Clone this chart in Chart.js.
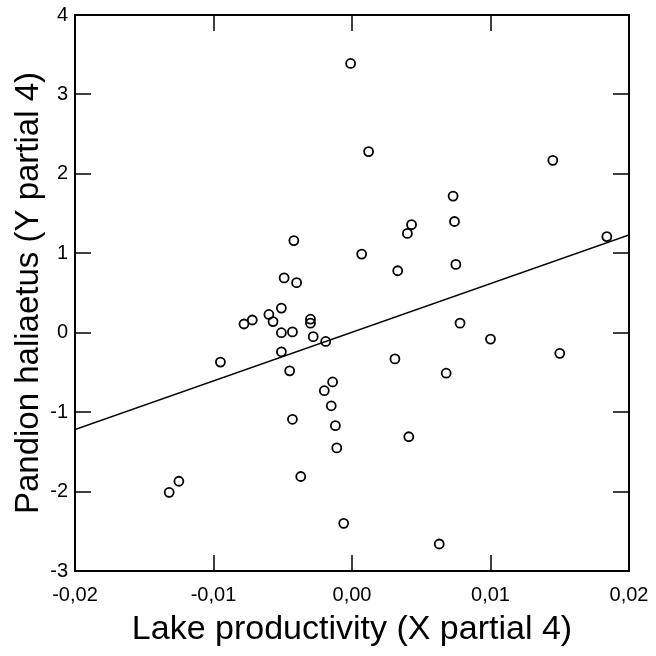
<!DOCTYPE html>
<html lang="en">

<head>
    <meta charset="UTF-8">
    <title>Pandion haliaetus vs Lake productivity</title>
    <style>
        body {
            background-color: white;
            margin: 0;
            padding: 0;
        }

        #chartBox {
            width: 656px;
            height: 656px;
        }
    </style>
</head>

<body>
    <div id="chartBox">
        <canvas id="partialChart" width="656" height="656"></canvas>
    </div>

    <script src="https://cdn.jsdelivr.net/npm/chart.js"></script>

    <script>
        // Partial regression points
        const xValues = [
            -0.0001, 0.0012, 0.0145, 0.0073, 0.0074, 0.0075, 0.0184, 0.0078, 0.0100, 0.0150,
            0.0068, 0.0043, 0.0040, 0.0007, 0.0033, -0.0042, -0.0049, -0.0040, -0.0051, -0.0060,
            -0.0072, -0.0078, -0.0057, -0.0030, -0.0030, -0.0051, -0.0043, -0.0028, -0.0019, -0.0051,
            -0.0095, -0.0045, 0.0031, -0.0014, -0.0020, -0.0015, -0.0043, -0.0012, -0.0011, 0.0041,
            -0.0037, -0.0006, 0.0063, -0.0132, -0.0125
        ];
        const yValues = [
            3.39, 2.28, 2.17, 1.72, 1.40, 0.86, 1.21, 0.12, -0.08, -0.26,
            -0.51, 1.36, 1.25, 0.99, 0.78, 1.16, 0.69, 0.63, 0.31, 0.23,
            0.16, 0.11, 0.14, 0.17, 0.12, 0.00, 0.01, -0.05, -0.11, -0.24,
            -0.37, -0.48, -0.33, -0.62, -0.73, -0.92, -1.09, -1.17, -1.45, -1.31,
            -1.81, -2.40, -2.66, -2.01, -1.87
        ];

        // Fitted line end points
        const lineX = [-0.02, 0.02];
        const lineY = [-1.22, 1.23];

        // Tick labels
        const xTicks = [-0.02, -0.01, 0, 0.01, 0.02];
        const yTicks = [-3, -2, -1, 0, 1, 2, 3, 4];

        const fontFamily = "Arial, 'Liberation Sans', sans-serif";

        const scatterPoints = xValues.map((x, i) => ({ x: x, y: yValues[i] }));
        const linePoints = lineX.map((x, i) => ({ x: x, y: lineY[i] }));

        // Box around the plot area with inward tick marks on all four sides
        const frameTicks = {
            id: 'frameTicks',
            afterDraw(chart) {
                const { ctx, chartArea: a, scales } = chart;
                const len = 16;
                ctx.save();
                ctx.strokeStyle = '#000';
                ctx.lineWidth = 1.5;
                ctx.beginPath();
                xTicks.forEach(v => {
                    const px = Math.round(scales.x.getPixelForValue(v));
                    ctx.moveTo(px, a.bottom);
                    ctx.lineTo(px, a.bottom - len);
                    ctx.moveTo(px, a.top);
                    ctx.lineTo(px, a.top + len);
                });
                yTicks.forEach(v => {
                    const py = Math.round(scales.y.getPixelForValue(v));
                    ctx.moveTo(a.left, py);
                    ctx.lineTo(a.left + len, py);
                    ctx.moveTo(a.right, py);
                    ctx.lineTo(a.right - len, py);
                });
                ctx.stroke();
                ctx.lineWidth = 2;
                ctx.strokeRect(a.left, a.top, a.right - a.left, a.bottom - a.top);
                ctx.restore();
            }
        };

        const chart = new Chart(document.getElementById('partialChart'), {
            type: 'scatter',
            data: {
                datasets: [{
                    label: 'Points',
                    data: scatterPoints,
                    pointStyle: 'circle',
                    pointRadius: 4.5,
                    pointBorderWidth: 1.8,
                    borderColor: '#000',
                    backgroundColor: 'rgba(0,0,0,0)',
                    order: 1
                }, {
                    type: 'line',
                    label: 'Fit',
                    data: linePoints,
                    borderColor: '#000',
                    borderWidth: 1.5,
                    pointRadius: 0,
                    fill: false,
                    order: 2
                }]
            },
            options: {
                responsive: false,
                animation: false,
                layout: {
                    padding: { top: 15, right: 27, left: 0, bottom: 0 }
                },
                plugins: {
                    legend: { display: false },
                    tooltip: { enabled: false }
                },
                scales: {
                    x: {
                        type: 'linear',
                        min: -0.02,
                        max: 0.02,
                        afterBuildTicks: scale => {
                            scale.ticks = xTicks.map(v => ({ value: v }));
                        },
                        afterFit: scale => {
                            scale.height = 85;
                            scale.paddingLeft = 0;
                            scale.paddingRight = 0;
                        },
                        grid: { display: false, drawTicks: false, tickLength: 0 },
                        border: { display: false },
                        ticks: {
                            autoSkip: false,
                            maxRotation: 0,
                            padding: 12,
                            color: '#000',
                            font: { family: fontFamily, size: 20 },
                            callback: v => v.toFixed(2).replace('.', ',')
                        },
                        title: {
                            display: true,
                            text: 'Lake productivity (X partial 4)',
                            color: '#000',
                            font: { family: fontFamily, size: 34 },
                            padding: { top: 0, bottom: 6 }
                        }
                    },
                    y: {
                        type: 'linear',
                        min: -3,
                        max: 4,
                        afterBuildTicks: scale => {
                            scale.ticks = yTicks.map(v => ({ value: v }));
                        },
                        afterFit: scale => {
                            scale.width = 75;
                            scale.paddingTop = 0;
                            scale.paddingBottom = 0;
                        },
                        grid: { display: false, drawTicks: false, tickLength: 0 },
                        border: { display: false },
                        ticks: {
                            autoSkip: false,
                            padding: 7,
                            color: '#000',
                            font: { family: fontFamily, size: 20 },
                            callback: v => String(v)
                        },
                        title: {
                            display: true,
                            text: 'Pandion haliaetus (Y partial 4)',
                            color: '#000',
                            font: { family: fontFamily, size: 33 },
                            padding: { top: 9, bottom: 0 }
                        }
                    }
                }
            },
            plugins: [frameTicks]
        });
    </script>
</body>

</html>
